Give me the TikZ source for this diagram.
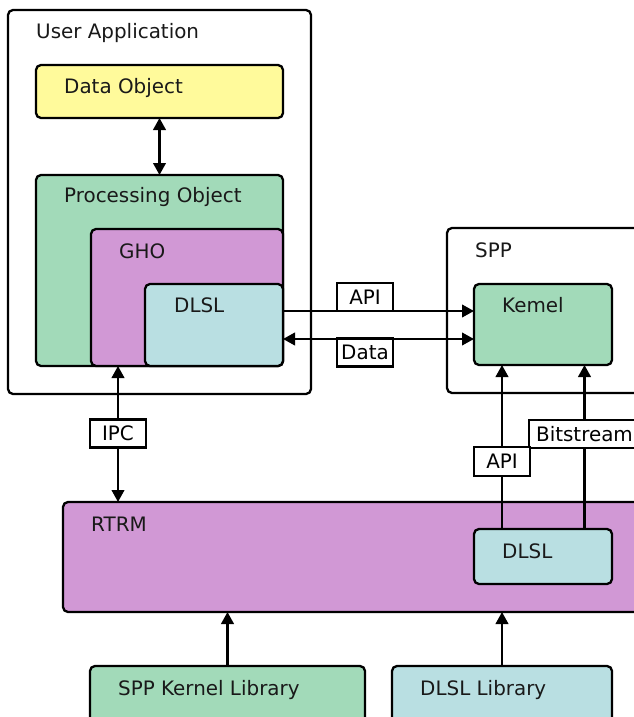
\documentclass[tikz,border=0pt]{standalone}
\usepackage{fontspec}
\setmainfont{DejaVu Sans}
\usetikzlibrary{arrows.meta,calc}
\definecolor{cyel}{RGB}{255,250,155}
\definecolor{cgrn}{RGB}{162,218,185}
\definecolor{cpur}{RGB}{209,152,213}
\definecolor{cblu}{RGB}{185,223,226}
\begin{document}
\begin{tikzpicture}[x=1pt,y=-1pt,
  every node/.style={font=\fontsize{19.9}{23}\selectfont},
  box/.style={draw=black,line width=2.3pt,rounded corners=5pt,anchor=north west,inner sep=0pt,outer sep=0pt},
  txt/.style={anchor=base west,inner sep=0pt,text=black!90},
  lbl/.style={draw=black,fill=white,line width=2.3pt,inner sep=0pt,outer sep=0pt,minimum height=28pt},
  arr/.style={line width=2.4pt,-{Triangle[length=12pt,width=12.5pt]}},
  darr/.style={line width=2.4pt,{Triangle[length=12pt,width=12.5pt]}-{Triangle[length=12pt,width=12.5pt]}}]
\useasboundingbox (0,0) rectangle (634,717);
% containers
\node (ua) [box,fill=white,minimum width=303pt,minimum height=384pt] at (8,10) {};
\node (spp) [box,fill=white,minimum width=260pt,minimum height=165pt] at (447,228) {};
\node (dobj) [box,fill=cyel,minimum width=247pt,minimum height=53pt] at (36,65) {};
\node (pobj) [box,fill=cgrn,minimum width=247pt,minimum height=191pt] at (36,175) {};
\node (gho) [box,fill=cpur,minimum width=192pt,minimum height=137pt] at (91,229) {};
\node (dlslA) [box,fill=cblu,minimum width=138pt,minimum height=82pt] at (145,284) {};
\node (kernel) [box,fill=cgrn,minimum width=138pt,minimum height=81pt] at (474,284) {};
\node (rtrm) [box,fill=cpur,minimum width=640pt,minimum height=110pt] at (63,502) {};
\node (dlslB) [box,fill=cblu,minimum width=138pt,minimum height=55pt] at (474,529) {};
\node (skl) [box,fill=cgrn,minimum width=275pt,minimum height=80pt] at (90,666) {};
\node (dlib) [box,fill=cblu,minimum width=220pt,minimum height=80pt] at (392,666) {};
% texts
\node (uaT) [txt] at (36,38) {User Application};
\node (sppT) [txt] at (475,257) {SPP};
\node (dobjT) [txt] at (64,93) {Data Object};
\node (pobjT) [txt] at (64,202) {Processing Object};
\node (ghoT) [txt] at (119,258) {GHO};
\node (dlslAT) [txt] at (174,312) {DLSL};
\node (kernelT) [txt] at (502,312) {Kemel};
\node (rtrmT) [txt] at (91,531) {RTRM};
\node (dlslBT) [txt] at (502,558) {DLSL};
\node (sklT) [txt] at (118,695) {SPP Kernel Library};
\node (dlibT) [txt] at (420,695) {DLSL Library};
% label positions
\coordinate (apiC) at (365,297);
\coordinate (dataC) at (365,352.5);
\coordinate (ipcC) at (118,433.5);
\coordinate (api2C) at (502,461.5);
\coordinate (bitC) at (584.5,434);
% connectors
\draw[darr] (dobj.south) -- (pobj.north);
\draw[arr] (dlslA.east |- 0,311) -- (kernel.west |- 0,311);
\draw[darr] (dlslA.east |- 0,339) -- (kernel.west |- 0,339);
\draw[darr] (gho.south -| ipcC) -- (rtrm.north -| ipcC);
\draw[arr] (dlslB.north -| api2C) -- (kernel.south -| api2C);
\draw[arr] (dlslB.north -| bitC) -- (kernel.south -| bitC);
\draw[arr] (skl.north) -- (rtrm.south -| skl.north);
\draw[arr] (dlib.north) -- (rtrm.south -| dlib.north);
% labels
\node (apiL) [lbl,minimum width=56pt] at (apiC) {API};
\node (dataL) [lbl,minimum width=56pt] at (dataC) {Data};
\node (ipcL) [lbl,minimum width=56pt] at (ipcC) {IPC};
\node (bitL) [lbl,minimum width=111pt] at (bitC) {Bitstream};
\node (api2L) [lbl,minimum width=56pt,minimum height=29pt] at (api2C) {API};
\end{tikzpicture}
\end{document}
